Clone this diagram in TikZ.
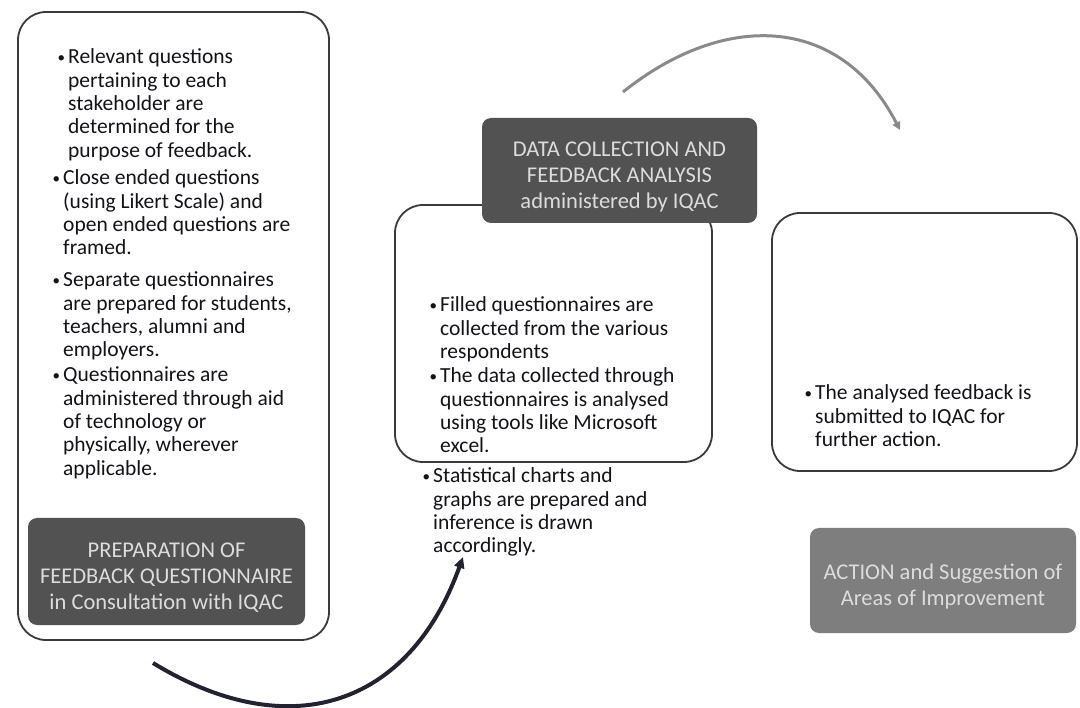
\documentclass[tikz,border=0pt]{standalone}
\usepackage{fontspec}
\setmainfont{Carlito}
\usetikzlibrary{arrows.meta}

\definecolor{ink}{HTML}{141418}
\definecolor{framecol}{HTML}{3A3A3A}
\definecolor{darkfill}{HTML}{525252}
\definecolor{midfill}{HTML}{7E7E7E}
\definecolor{paletext}{HTML}{DCDCDC}
\definecolor{arcgray}{HTML}{8A8A8A}
\definecolor{arcdark}{HTML}{222230}

% bullet hung in the left margin of the first line
\newcommand{\bul}{\leavevmode\llap{\raisebox{1.5pt}{\fontsize{15}{15}\selectfont •}\hspace{3pt}}}
% a bullet item whose first baseline is the node's base anchor
\newcommand{\itemtext}[1]{\parbox[t]{340pt}{\raggedright\fontsize{21.5}{23.3}\selectfont #1}}

\tikzset{
  wbox/.style={draw=framecol, line width=1.8pt, rounded corners=28pt, fill=white, inner sep=0pt},
  darkbox/.style={fill=darkfill, rounded corners=9pt, inner sep=0pt},
  lightbox/.style={fill=midfill, rounded corners=9pt, inner sep=0pt},
  titletext/.style={text=paletext, align=center, font=\fontsize{22.5}{26}\selectfont, inner sep=0pt},
  itemnode/.style={anchor=base west, inner sep=0pt, text=ink},
  botarc/.style={draw=arcdark, line width=4pt, -{Triangle[length=11pt,width=10pt]}},
  toparc/.style={draw=arcgray, line width=3pt, -{Triangle[length=8pt,width=8pt]}},
}

\begin{document}
\begin{tikzpicture}[x=1pt,y=-1pt]
\useasboundingbox (0,0) rectangle (1080,708);
\fill[white] (0,0) rectangle (1080,708);

% frames of the three stages
\node[wbox, minimum width=311pt, minimum height=628pt] (prepframe) at (173.5,326) {};
\node[wbox, minimum width=317pt, minimum height=257pt] (collframe) at (553.5,333.5) {};
\node[wbox, minimum width=305pt, minimum height=258pt] (actframe) at (924.5,342) {};

% stage title boxes
\node[darkbox, minimum width=277pt, minimum height=107pt] (prep) at (166.5,571.5) {};
\node[darkbox, minimum width=275pt, minimum height=105pt] (coll) at (619.5,170.5) {};
\node[lightbox, minimum width=266pt, minimum height=105pt] (act) at (943,580.5) {};

% stage titles, sitting a little below the middle of each box
\node[titletext] (preptitle) at (166.5,578)
  {PREPARATION OF\\FEEDBACK QUESTIONNAIRE\\in Consultation with IQAC};
\node[titletext] (colltitle) at (619.5,177)
  {DATA COLLECTION AND\\FEEDBACK ANALYSIS\\administered by IQAC};
\node[titletext] (acttitle) at (943,587)
  {ACTION and Suggestion of\\Areas of Improvement};

% preparation items
\node[itemnode] (p1) at (68,64) {\itemtext{\bul Relevant questions\\pertaining to each\\stakeholder are\\determined for the\\purpose of feedback.}};
\node[itemnode] (p2) at (63,185) {\itemtext{\bul Close ended questions\\(using Likert Scale) and\\open ended questions are\\framed.}};
\node[itemnode] (p3) at (63,287) {\itemtext{\bul Separate questionnaires\\are prepared for students,\\teachers, alumni and\\employers.}};
\node[itemnode] (p4) at (63,382) {\itemtext{\bul Questionnaires are\\administered through aid\\of technology or\\physically, wherever\\applicable.}};

% collection items
\node[itemnode] (c1) at (440,312) {\itemtext{\bul Filled questionnaires are\\collected from the various\\respondents}};
\node[itemnode] (c2) at (440,383) {\itemtext{\bul The data collected through\\questionnaires is analysed\\using tools like Microsoft\\excel.}};
\node[itemnode] (c3) at (433,483) {\itemtext{\bul Statistical charts and\\graphs are prepared and\\inference is drawn\\accordingly.}};

% action item
\node[itemnode] (a1) at (815,400) {\itemtext{\bul The analysed feedback is\\submitted to IQAC for\\further action.}};

% cycle arrows
\coordinate (prepout) at (153,663);
\coordinate (collin) at (463,557);
\draw[botarc] (prepout) .. controls (289,746) and (409,707) .. (collin);

\coordinate (collout) at (623,92);
\coordinate (actin) at (900,130);
\draw[toparc] (collout) .. controls (724,11) and (840,14) .. (actin);
\end{tikzpicture}
\end{document}
